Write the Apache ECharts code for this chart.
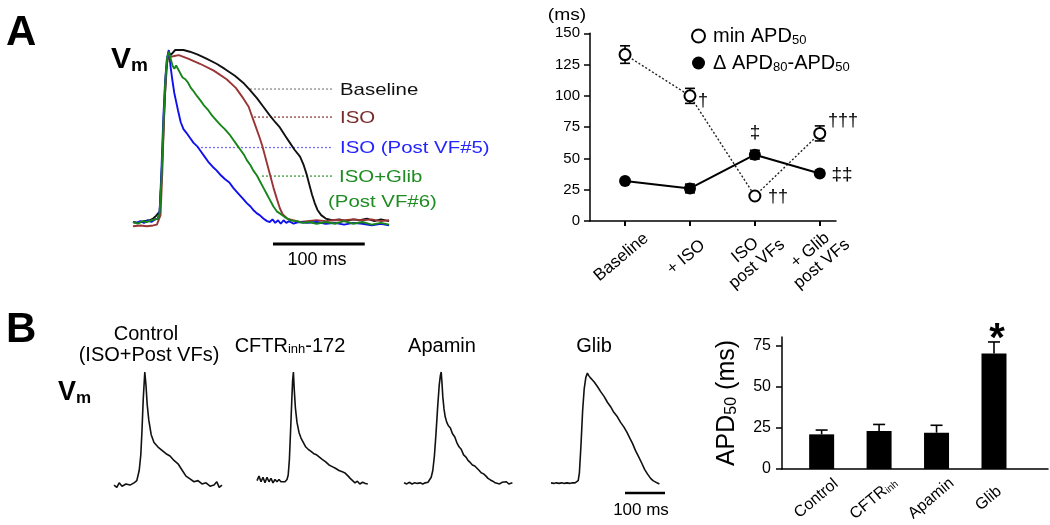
<!DOCTYPE html>
<html><head><meta charset="utf-8">
<script src="https://cdn.jsdelivr.net/npm/echarts@6/dist/echarts.min.js"></script>
<style>html,body{margin:0;padding:0;background:#fff}#c{width:1050px;height:525px}</style>
</head><body><div id="c"></div>
<script>
const FONT = '"Liberation Sans", Arial, Helvetica, sans-serif';

// ---------- Panel A (left): optical APs, [time ms, Vm % of amplitude]
const apBaseline = [[0,0],[6,-0.5],[12,0.5],[18,1],[22,2],[25,3.5],[27,3],[29,6],[31,25],[33,50],[35,75],[37,92],[39,99],[41,97],[43,98],[46,100],[50,100],[55,100],[62,99],[70,97.5],[80,95],[91,92],[100,89],[111,85],[120,81],[127,77],[135,72],[142,67],[149,62],[155,58],[160,55],[166,50],[171,46],[176,42],[182,38],[186,33],[189,28],[192,22],[195,16],[198,11],[201,7],[205,4],[210,2],[217,1],[225,1.5],[232,0.5],[240,1.5],[247,1],[255,2],[263,0.5],[270,1.5],[279,0.5]];
const apIso = [[0,-2.5],[8,-2],[15,-2.5],[22,-2],[26,-1.5],[28,-1],[30,4],[32,30],[34,65],[36,88],[38,96],[41,96],[45,96.5],[50,97],[60,95],[73,92],[88,88],[102,83],[112,78],[120,72],[126,67],[130,61],[134,55],[138,49],[141,44],[145,36],[149,28],[153,20],[157,13],[160,8],[163,4.5],[168,2],[174,1],[182,0],[190,0.5],[200,1],[210,0.5],[220,1.2],[230,1],[240,1.5],[250,1],[260,1.5],[270,0.5],[279,1]];
const apIsoPostVF5 = [[0,0],[4,-0.5],[8,0.5],[12,-0.5],[16,1],[20,0],[24,1.5],[27,2],[29,6],[31,30],[33,60],[35,82],[37,95],[39,100],[41,90],[43,82],[45,75],[47,70],[49,65],[52,58],[55,54],[58,52],[62,49],[66,46],[70,44],[74,41],[78,38],[82,35],[87,32],[91,30],[96,27],[100,25],[105,23],[109,20],[114,17],[119,14],[124,11],[128,9],[131,7],[135,5],[138,4],[142,2],[146,0.5],[149,0],[152,1.5],[155,-0.5],[158,1],[161,-1],[164,1],[167,-0.5],[170,0.5],[175,-1],[180,0],[190,-0.5],[200,0],[210,-1],[220,-0.5],[230,-1.5],[240,-0.5],[250,-1],[260,-2],[270,-1],[279,-2]];
const apIsoGlibPostVF6 = [[0,0],[5,-1],[10,0.5],[15,0],[20,1],[24,1.5],[27,2],[29,5],[31,25],[33,55],[35,80],[37,95],[39,99],[41,95],[43,91],[45,89],[47,91],[49,91],[51,87],[54,84],[57,83],[60,81],[63,78],[66,76],[70,73],[73,71],[77,68],[82,65],[86,62],[91,59],[96,56],[100,54],[105,51],[109,48],[113,45],[117,42],[121,39],[124,36],[128,33],[131,30],[135,27],[138,24],[142,20],[146,16],[149,13],[153,9],[157,6],[160,5],[165,3],[171,1],[178,0.5],[185,-0.5],[192,0],[200,-1],[210,0],[220,-1],[230,0.5],[240,-1],[250,0],[260,-1.5],[270,-0.5],[279,-1.5]];
const apLabels = ['Baseline', 'ISO', 'ISO (Post VF#5)', 'ISO+Glib'];
const apLabelLevels = [77.3, 61, 43.3, 26.7];   // % amplitude of dotted leader lines
const apLabelStarts = [127.5, 131.8, 69.7, 140.5]; // ms
const apLabelEnd = 218;
const apScaleBar = [152.5, 252.5]; // 100 ms

// ---------- Panel A (right): APD summary
const aCats = ['Baseline', '+ ISO', 'ISO\npost VFs', '+ Glib\npost VFs'];
const minApd50 = [133, 100, 20, 70];
const minApd50Err = [7, 6, 0, 6];
const deltaApd = [32, 26, 53, 38];
const deltaApdErr = [1, 3.5, 3.5, 1.5];
const aTicks = [0, 25, 50, 75, 100, 125, 150];

// ---------- Panel B: APs under drugs, [time ms, Vm % of amplitude]
const bControl = [[0,-1],[7,-3],[13,1],[20,-2],[30,0],[40,-1],[50,1],[57,3],[63,12],[67,26],[70,48],[73,75],[77,100],[80,88],[83,71],[87,57],[93,44],[100,37],[110,33],[120,30],[130,27],[140,25],[150,21],[160,18],[170,12.5],[180,7],[190,4.5],[200,2],[210,3],[220,0],[230,1],[240,-2],[250,-1],[257,2],[263,-3],[270,-1]];
const bCftr = [[0,3],[5,7],[10,2],[15,6],[20,1],[25,6],[30,2],[35,5],[40,1],[45,4],[50,2],[55,4],[60,2],[65,3],[70,2],[75,4],[78,8],[81,22],[84,48],[87,75],[89,92],[91,100],[93,85],[96,68],[100,55],[105,46],[110,41],[116,37],[122,33],[128,31],[135,29],[142,27],[149,26],[156,24],[163,22],[171,20],[180,17],[188,15.5],[196,14],[205,12],[213,11],[221,9.5],[228,7],[233,5],[238,3.6],[245,1],[251,2.5],[257,0],[264,1.5],[271,0.5],[277,0]];
const bApamin = [[0,1],[7,0],[13,1.5],[20,0],[27,1],[33,0.5],[40,1],[47,0],[53,1],[60,1.5],[64,3],[68,6],[72,12],[76,25],[80,45],[84,68],[88,88],[91,97],[93,100],[95,90],[97,78],[100,67],[103,60],[107,55],[111,52],[116,50],[121,45],[127,42],[132,37],[138,33],[143,31],[149,26],[155,24],[160,21],[166,19],[171,17],[177,16],[182,15],[188,12],[193,10],[199,9],[205,7],[210,5],[216,3.6],[222,2.5],[228,1],[233,2],[239,0],[245,1.5],[250,0.5],[256,2],[262,0],[267,1.5],[271,1]];
const bGlib = [[0,1],[7,0.5],[13,1],[20,0.5],[27,1],[33,0.5],[40,1],[47,0.5],[53,1],[60,1],[65,1.5],[68,3],[71,10],[75,35],[79,65],[83,85],[87,95],[91,99],[94,97],[98,95],[103,93],[108,91],[116,87],[125,82],[133,78],[141,73],[149,69],[157,64],[166,60],[174,55],[182,51],[190,46],[197,41],[204,36],[211,30],[218,25],[227,18.5],[234,13],[241,9],[249,5],[255,3],[260,2.5],[265,1],[271,0]];
const bTitles = ['Control\n(ISO+Post VFs)', 'CFTR_inh-172', 'Apamin', 'Glib'];
const bScaleBar = [185, 285]; // 100 ms

// ---------- Panel B (right): APD50 bars
const barCats = ['Control', 'CFTR_inh', 'Apamin', 'Glib'];
const barApd50 = [21, 23, 22, 70];
const barApd50Err = [2.6, 4, 4.5, 7];
const barTicks = [0, 25, 50, 75];

// ===================================================================
const apColors = ['#111111', '#9a3535', '#1010ee', '#16861a'];
const apTextColors = ['#111111', '#7a2a2a', '#2424ff', '#1f8c22'];
const apLeaderColors = ['#8a8a8a', '#8d3f3f', '#7070ff', '#3a9a3a'];

function sub(s, a, b){ // 'CFTR_inh' -> rich
  const p = s.split('_');
  if (p.length === 1) return '{' + a + '|' + s + '}';
  const m = p[1].match(/^([a-z]+)(.*)$/);
  return '{' + a + '|' + p[0] + '}{' + b + '|' + m[1] + '}' + (m[2] ? '{' + a + '|' + m[2] + '}' : '');
}

function errRender(capHalf, upOnly){
  return function(params, api){
    const x = api.value(0), lo = api.value(1), hi = api.value(2);
    const pt = api.coord([x, hi]), pb = api.coord([x, lo]);
    const st = {stroke: '#000', lineWidth: 1.6, fill: null};
    const ch = [
      {type:'line', shape:{x1:pt[0], y1:pt[1], x2:pb[0], y2:pb[1]}, style: st},
      {type:'line', shape:{x1:pt[0]-capHalf, y1:pt[1], x2:pt[0]+capHalf, y2:pt[1]}, style: st}
    ];
    if (!upOnly) ch.push({type:'line', shape:{x1:pb[0]-capHalf, y1:pb[1], x2:pb[0]+capHalf, y2:pb[1]}, style: st});
    return {type:'group', children: ch};
  };
}

const hiddenX = (g, max) => ({gridIndex:g, type:'value', min:0, max:max, show:false});
const hiddenY = (g, min, max) => ({gridIndex:g, type:'value', min:min, max:max, show:false});

const bLefts = [114, 257, 404, 551];
const grids = [
  {left:133, top:50, width:257, height:197.8},
  {left:590, top:33.3, width:246, height:187.7},
];
bLefts.forEach(l => grids.push({left:l, top:372, width:116, height:125.4}));
grids.push({left:782, top:337, width:266, height:132});

const axisLine = {show:true, onZero:false, lineStyle:{color:'#000', width:1.5}};

const xAxes = [
  hiddenX(0, 280),
  {gridIndex:1, type:'value', min:-0.54, max:3.25, axisLine: axisLine,
   axisTick:{show:true, customValues:[0,1,2,3], length:5, lineStyle:{color:'#000', width:2}},
   axisLabel:{show:true, customValues:[0,1,2,3], formatter: v => aCats[Math.round(v)], rotate:40, align:'center', verticalAlign:'middle', margin:33, padding:[0,10,0,0], fontSize:17, lineHeight:18, color:'#000', fontFamily:FONT},
   splitLine:{show:false}},
  hiddenX(2, 290), hiddenX(3, 290), hiddenX(4, 290), hiddenX(5, 290),
  {gridIndex:6, type:'value', min:-0.69, max:3.94, axisLine: axisLine,
   axisTick:{show:false},
   axisLabel:{show:true, customValues:[0,1,2,3], formatter: v => sub(barCats[Math.round(v)], 'a', 's'), rotate:40, align:'center', verticalAlign:'middle', margin:25, padding:[0,14,0,0],
     rich:{a:{fontSize:16, color:'#000', fontFamily:FONT}, s:{fontSize:10, color:'#000', fontFamily:FONT, verticalAlign:'bottom', lineHeight:5}}},
   splitLine:{show:false}}
];
const yAxes = [
  hiddenY(0, -15, 100),
  {gridIndex:1, type:'value', min:0, max:150, interval:25, axisLine: axisLine,
   axisTick:{show:true, length:6, lineStyle:{color:'#000', width:1.5}},
   axisLabel:{show:true, customValues: aTicks, fontSize:15, margin:10, color:'#000', fontFamily:FONT},
   splitLine:{show:false}},
  hiddenY(2, -12, 100), hiddenY(3, -12, 100), hiddenY(4, -12, 100), hiddenY(5, -12, 100),
  {gridIndex:6, type:'value', min:0, max:80, axisLine: axisLine,
   axisTick:{show:true, customValues: barTicks, length:6, lineStyle:{color:'#000', width:1.5}},
   axisLabel:{show:true, customValues: barTicks, fontSize:16, margin:11, color:'#000', fontFamily:FONT},
   splitLine:{show:false},
   name:'{a|APD}{s|50}{a| (ms)}', nameLocation:'middle', nameGap:42, nameRotate:90,
   nameTextStyle:{rich:{a:{fontSize:25, color:'#000', fontFamily:FONT}, s:{fontSize:16, color:'#000', fontFamily:FONT, verticalAlign:'bottom', lineHeight:8}}}}
];

const series = [];
// A left traces (drawn black, red, green, blue on top)
[[apBaseline,0],[apIso,1],[apIsoGlibPostVF6,3],[apIsoPostVF5,2]].forEach(([d,ci]) => {
  series.push({type:'line', xAxisIndex:0, yAxisIndex:0, data:d, showSymbol:false, silent:true,
    lineStyle:{color:apColors[ci], width:1.9}, z: 2 + ci});
});
// dotted leader lines
apLabelLevels.forEach((lv, i) => {
  series.push({type:'line', xAxisIndex:0, yAxisIndex:0, data:[[apLabelStarts[i], lv],[apLabelEnd, lv]], showSymbol:false, silent:true,
    lineStyle:{color:apLeaderColors[i], width:1.3, type:[2,2]}, z:1});
});
// A scale bar
series.push({type:'line', xAxisIndex:0, yAxisIndex:0, data:[[apScaleBar[0], -12.8],[apScaleBar[1], -12.8]], showSymbol:false, silent:true,
  lineStyle:{color:'#000', width:3}});

// A right
series.push({type:'custom', name:'errMin', xAxisIndex:1, yAxisIndex:1, renderItem: errRender(5, false),
  data: minApd50.map((v,i) => [i, v - minApd50Err[i], v + minApd50Err[i]]), encode:{x:0, y:[1,2]}, z:3, silent:true});
series.push({type:'custom', name:'errDelta', xAxisIndex:1, yAxisIndex:1, renderItem: errRender(5, false),
  data: deltaApd.map((v,i) => [i, v - deltaApdErr[i], v + deltaApdErr[i]]), encode:{x:0, y:[1,2]}, z:3, silent:true});
series.push({type:'line', name:'min APD50', xAxisIndex:1, yAxisIndex:1, data: minApd50.map((v,i)=>[i,v]),
  symbol:'circle', symbolSize:11, itemStyle:{color:'#fff', borderColor:'#000', borderWidth:2},
  lineStyle:{color:'#222', width:1.4, type:[2,2]}, z:4});
series.push({type:'line', name:'Δ APD80-APD50', xAxisIndex:1, yAxisIndex:1, data: deltaApd.map((v,i)=>[i,v]),
  symbol:'circle', symbolSize:12, itemStyle:{color:'#000'},
  lineStyle:{color:'#000', width:2}, z:4});

// B traces
[bControl, bCftr, bApamin, bGlib].forEach((d, i) => {
  series.push({type:'line', xAxisIndex:2+i, yAxisIndex:2+i, data:d, showSymbol:false, silent:true,
    lineStyle:{color:'#111', width:1.6}});
});
series.push({type:'line', xAxisIndex:5, yAxisIndex:5, data:[[bScaleBar[0], -8],[bScaleBar[1], -8]], showSymbol:false, silent:true,
  lineStyle:{color:'#000', width:2.5}});

// B bars
series.push({type:'bar', xAxisIndex:6, yAxisIndex:6, data: barApd50.map((v,i)=>[i,v]), barWidth:25,
  itemStyle:{color:'#000'}, z:2, silent:true});
series.push({type:'custom', xAxisIndex:6, yAxisIndex:6, renderItem: errRender(6, true),
  data: barApd50.map((v,i) => [i, v, v + barApd50Err[i]]), encode:{x:0, y:[1,2]}, z:3, silent:true});

// ---------- texts
const T = (x, y, text, o) => Object.assign({type:'text', x:x, y:y, silent:true,
  style: Object.assign({text:text, fontFamily:FONT, fontSize:17, fill:'#000', align:'left', verticalAlign:'middle'}, o && o.style)},
  o && o.el);

const vmRich = (vs, ms, mlh) => ({v:{fontSize:vs, fontWeight:'bold', fontFamily:FONT, fill:'#000'}, m:{fontSize:ms, fontWeight:'bold', fontFamily:FONT, fill:'#000', verticalAlign:'bottom', lineHeight:mlh}});

const graphic = [
  T(6, 33, 'A', {style:{fontSize:42, fontWeight:'bold'}}),
  T(6, 330, 'B', {style:{fontSize:42, fontWeight:'bold'}}),
  T(111, 60, '{v|V}{m|m}', {style:{rich: vmRich(30, 19, 8)}}),
  T(58, 393, '{v|V}{m|m}', {style:{rich: vmRich(27, 17, 7)}}),
  // A-left labels
  T(340, 90, apLabels[0], {style:{fill:apTextColors[0]}, el:{scaleX:1.2}}),
  T(340, 118, apLabels[1], {style:{fill:apTextColors[1]}, el:{scaleX:1.2}}),
  T(340, 148, apLabels[2], {style:{fill:apTextColors[2]}, el:{scaleX:1.2}}),
  T(339, 177, apLabels[3], {style:{fill:apTextColors[3]}, el:{scaleX:1.2}}),
  T(328, 202, '(Post VF#6)', {style:{fill:apTextColors[3]}, el:{scaleX:1.2}}),
  T(317, 260, '100 ms', {style:{fontSize:18, align:'center'}}),
  // A-right
  T(567, 16, '(ms)', {style:{fontSize:16, align:'center'}, el:{scaleX:1.2, originX:0}}),
  T(703, 101, '†', {style:{fontSize:18, align:'center'}}),
  T(778, 197, '††', {style:{fontSize:18, align:'center'}}),
  T(843, 121, '†††', {style:{fontSize:18, align:'center'}}),
  T(755, 133, '‡', {style:{fontSize:19, align:'center'}}),
  T(842, 175, '‡‡', {style:{fontSize:19, align:'center'}}),
  // B titles
  T(146, 334, 'Control', {style:{fontSize:20, align:'center'}}),
  T(149, 355, '(ISO+Post VFs)', {style:{fontSize:20, align:'center'}}),
  T(290, 346, sub(bTitles[1], 'a', 's'), {style:{align:'center', rich:{a:{fontSize:20, fontFamily:FONT, fill:'#000'}, s:{fontSize:13, fontFamily:FONT, fill:'#000', verticalAlign:'bottom', lineHeight:8}}}}),
  T(442, 346, bTitles[2], {style:{fontSize:20, align:'center'}}),
  T(594, 346, bTitles[3], {style:{fontSize:20, align:'center'}}),
  T(641, 510, '100 ms', {style:{fontSize:17, align:'center'}}),
  T(997, 340, '*', {style:{fontSize:40, fontWeight:'bold', align:'center'}})
];

const legendRich = {a:{fontSize:20, fontFamily:FONT, color:'#000', lineHeight:22}, s:{fontSize:13, fontFamily:FONT, color:'#000', verticalAlign:'bottom', lineHeight:7}};

const option = {
  animation:false,
  backgroundColor:'#fff',
  textStyle:{fontFamily:FONT},
  grid: grids,
  xAxis: xAxes,
  yAxis: yAxes,
  legend:{
    data:[
      {name:'min APD50', icon:'circle', itemStyle:{color:'#fff', borderColor:'#000', borderWidth:2}},
      {name:'Δ APD80-APD50', icon:'circle', itemStyle:{color:'#000', borderWidth:0}}
    ],
    orient:'vertical', left:686, top:21, itemWidth:13, itemHeight:13, itemGap:6,
    selectedMode:false,
    formatter: n => n === 'min APD50' ? '{a|min APD}{s|50}' : '{a|Δ APD}{s|80}{a|-APD}{s|50}',
    textStyle:{rich: legendRich, padding:[0,0,0,3]}
  },
  graphic: graphic,
  series: series
};
const chart = echarts.init(document.getElementById('c'));
chart.setOption(option);
</script></body></html>
